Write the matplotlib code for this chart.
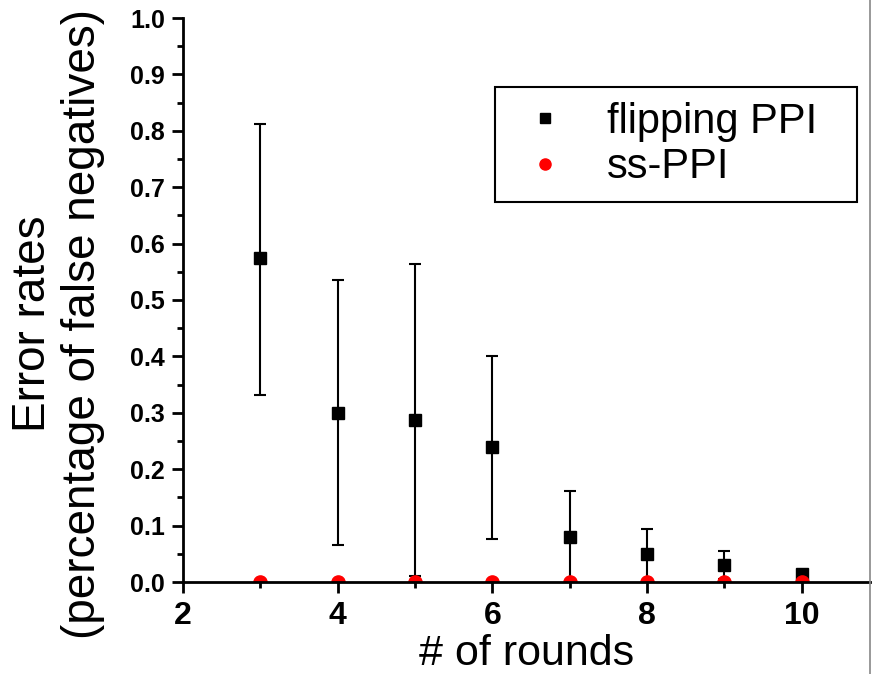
import numpy as np
import matplotlib
matplotlib.use("Agg")
import matplotlib.pyplot as plt
from matplotlib.lines import Line2D
from matplotlib.ticker import MultipleLocator, FormatStrFormatter

plt.rcParams.update({
    "font.family": ["Liberation Sans", "DejaVu Sans"],
    "axes.linewidth": 2.0,
})

# data
rounds = [3, 4, 5, 6, 7, 8, 9, 10]
flip_mean = [0.574, 0.300, 0.287, 0.240, 0.079, 0.049, 0.030, 0.014]
flip_low = [0.332, 0.065, 0.010, 0.077, 0.0, 0.0, 0.005, 0.014]
flip_high = [0.812, 0.536, 0.563, 0.401, 0.162, 0.094, 0.055, 0.014]
ss_mean = [0, 0, 0, 0, 0, 0, 0, 0]

W, H = 875, 674
fig = plt.figure(figsize=(W / 100, H / 100), dpi=100)
ax = fig.add_axes([183 / W, 1 - 582 / H, (870 - 183) / W, (582 - 18) / H])

mean = np.array(flip_mean)
yerr = np.vstack([mean - np.array(flip_low), np.array(flip_high) - mean])
ax.errorbar(rounds, flip_mean, yerr=yerr, fmt="s", color="black", ms=8.5,
            elinewidth=1.5, capsize=4.5, capthick=1.5, zorder=3)
ax.plot(rounds, ss_mean, "o", color="red", ms=9.5, zorder=4)

ax.set_xlim(2, 2 + (870 - 183) / 77.35)
ax.set_ylim(0, 1.0)
ax.xaxis.set_major_locator(MultipleLocator(2))
ax.xaxis.set_minor_locator(MultipleLocator(1))
ax.yaxis.set_major_locator(MultipleLocator(0.1))
ax.yaxis.set_minor_locator(MultipleLocator(0.05))
ax.yaxis.set_major_formatter(FormatStrFormatter("%.1f"))
ax.spines["top"].set_visible(False)
ax.spines["right"].set_visible(False)
ax.spines["bottom"].set_zorder(5)
ax.tick_params(which="major", direction="out", length=8, width=2.0)
ax.tick_params(which="minor", direction="out", length=4.5, width=2.0)
ax.tick_params(axis="x", which="major", labelsize=23, pad=6)
ax.tick_params(axis="y", which="major", labelsize=18, pad=5)
for lab in ax.get_xticklabels() + ax.get_yticklabels():
    lab.set_fontweight("bold")

ax.set_xlabel("# of rounds", fontsize=31)
ax.xaxis.set_label_coords(0.5, -0.092)
fig.text(58 / W, 1 - 324 / H, "Error rates\n(percentage of false negatives)",
         rotation=90, ha="center", va="center", multialignment="center",
         fontsize=33)

handles = [
    Line2D([], [], ls="none", marker="s", color="black", ms=7),
    Line2D([], [], ls="none", marker="o", color="red", ms=8),
]
# legend box spans x 495..857 px, top at 87 px
x0 = (495 - 183) / 687
x1 = (857 - 183) / 687
ytop = (582 - 87) / 564
leg = ax.legend(handles, ["flipping PPI", "ss-PPI"], loc="upper left",
                bbox_to_anchor=(x0, ytop - 0.2, x1 - x0, 0.2), mode="expand",
                borderaxespad=0, fontsize=30, fancybox=False, framealpha=1,
                edgecolor="black", borderpad=0.35, handlelength=1.7,
                handletextpad=0.64, labelspacing=0.14)
leg.get_frame().set_linewidth(1.5)

# thin grey page edge at the right
fig.add_artist(Line2D([870 / W, 870 / W], [0, 1], color="#888888", lw=1.2,
                      transform=fig.transFigure))

fig.savefig("out.png", dpi=100)
